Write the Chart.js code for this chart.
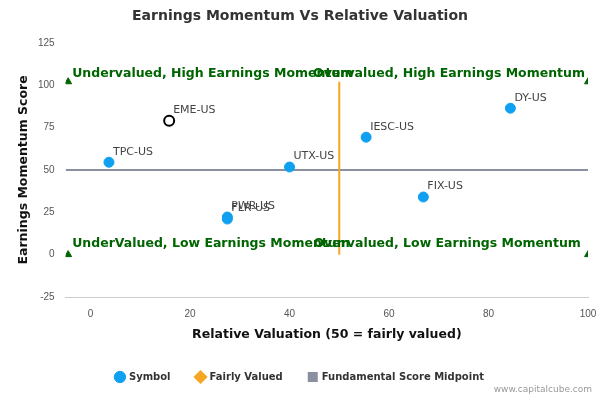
<!DOCTYPE html><html><head><script src="https://cdn.jsdelivr.net/npm/chart.js@4"></script>
<style>body{margin:0;background:#fff}#w{width:600px;height:400px;position:relative}</style></head><body><div id="w"><canvas id="c"></canvas></div>
<script>
const symbols=["TPC-US","EME-US","UTX-US","IESC-US","DY-US","FIX-US","PWR-US","FLR-US"];
const valuation=[3.7,15.8,40,55.4,84.4,66.9,27.5,27.5];
const momentum=[54.5,79,51.7,69.3,86.4,34,22.2,21];
const fairX=[50,50], fairY=[0,102];
const midX=[-5,100], midY=[50,50];
const quadrantLabels=["Undervalued, High Earnings Momentum","Overvalued, High Earnings Momentum","UnderValued, Low Earnings Momentum","Overvalued, Low Earnings Momentum"];
const markerX=[-4.5,100,-4.5,100], markerY=[102,102,0,0];
const pts=symbols.map((s,i)=>({x:valuation[i],y:momentum[i]}));
const labelPlugin={id:'lbl',afterDatasetsDraw(ch){
 const c=ch.ctx,x=ch.scales.x,y=ch.scales.y;c.save();
 c.font='11px "DejaVu Sans"';c.fillStyle='#444';c.textBaseline='bottom';
 pts.forEach((p,i)=>c.fillText(symbols[i],x.getPixelForValue(p.x)+4,y.getPixelForValue(p.y)-5));
 c.font='bold 12.5px "DejaVu Sans"';c.fillStyle='#006400';
 c.textAlign='left';c.fillText(quadrantLabels[0],x.getPixelForValue(-4.5)+4,y.getPixelForValue(102)-2);
 c.fillText(quadrantLabels[2],x.getPixelForValue(-4.5)+4,y.getPixelForValue(0)-5);
 c.textAlign='right';c.fillText(quadrantLabels[1],x.getPixelForValue(100)-3,y.getPixelForValue(102)-2);
 c.textAlign='left';c.fillText(quadrantLabels[3],x.getPixelForValue(44.8),y.getPixelForValue(0)-5);
 c.restore();}};
new Chart(document.getElementById('c'),{type:'scatter',data:{datasets:[
 {label:'Symbol',data:pts,backgroundColor:pts.map((p,i)=>i==1?'#fff':'#0fa0f0'),borderColor:pts.map((p,i)=>i==1?'#000':'#0fa0f0'),borderWidth:pts.map((p,i)=>i==1?2:1),pointRadius:5,pointHoverRadius:5,pointStyle:'circle',order:1},
 {label:'Fairly Valued',data:fairX.map((v,i)=>({x:v,y:fairY[i]})),showLine:true,borderColor:'#f5a623',backgroundColor:'#f5a623',borderWidth:2,pointRadius:0,pointStyle:'rectRot',order:2},
 {label:'Fundamental Score Midpoint',data:midX.map((v,i)=>({x:v,y:midY[i]})),showLine:true,borderColor:'#8a90a0',backgroundColor:'#8a90a0',borderWidth:2,pointRadius:0,pointStyle:'rect',order:3},
 {label:'m',data:markerX.map((v,i)=>({x:v,y:markerY[i]})),pointStyle:'triangle',pointRadius:4,backgroundColor:'#006400',borderColor:'#006400',order:0}
]},options:{responsive:true,maintainAspectRatio:false,animation:false,
 layout:{padding:{right:12,left:12,bottom:8}},
 plugins:{title:{display:true,text:'Earnings Momentum Vs Relative Valuation',font:{size:14,weight:'bold',family:'DejaVu Sans'},color:'#333',padding:{top:8,bottom:18}},
  legend:{position:'bottom',labels:{filter:l=>l.text!='m',usePointStyle:true,boxWidth:8,boxHeight:8,font:{size:10,weight:'bold',family:'DejaVu Sans'},color:'#333',padding:26}},tooltip:{enabled:false}},
 scales:{x:{min:-5,max:100,afterBuildTicks:a=>{a.ticks=[0,20,40,60,80,100].map(v=>({value:v}))},grid:{display:false},border:{color:'#ccc'},ticks:{color:'#555',font:{size:10}},title:{display:true,text:'Relative Valuation (50 = fairly valued)',font:{size:12.5,weight:'bold',family:'DejaVu Sans'},color:'#111'}},
 y:{min:-25,max:125,ticks:{stepSize:25,color:'#555',font:{size:10}},grid:{display:false},border:{display:false},title:{display:true,text:'Earnings Momentum Score',font:{size:12.5,weight:'bold',family:'DejaVu Sans'},color:'#111'}}}},
 plugins:[labelPlugin]});
const cv=document.getElementById('w');const d=document.createElement('div');d.textContent='www.capitalcube.com';d.style.cssText='position:absolute;right:8px;bottom:6px;font:9px "DejaVu Sans";color:#999';cv.appendChild(d);
</script></body></html>
